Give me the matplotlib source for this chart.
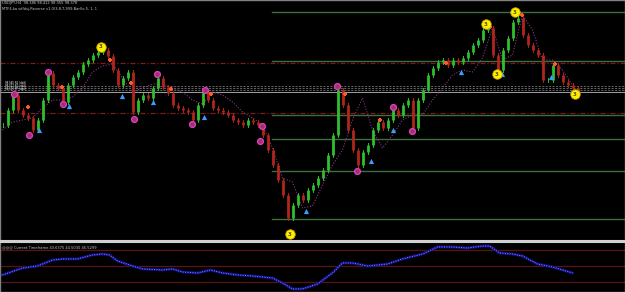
import matplotlib
matplotlib.use("Agg")
from matplotlib import pyplot as plt
import numpy as np

# price closes, one per bar
closes = [98.15, 98.30, 98.45, 98.30, 98.25, 98.22, 98.10, 98.20, 98.40, 98.67,
          98.55, 98.52, 98.38, 98.55, 98.63, 98.68, 98.76, 98.80, 98.85, 98.88,
          98.90, 98.84, 98.70, 98.55, 98.62, 98.68, 98.28, 98.40, 98.45, 98.42,
          98.52, 98.62, 98.53, 98.47, 98.35, 98.32, 98.30, 98.28, 98.20, 98.35,
          98.48, 98.40, 98.32, 98.30, 98.28, 98.25, 98.20, 98.18, 98.15, 98.20,
          98.18, 98.15, 98.05, 97.90, 97.75, 97.60, 97.45, 97.22, 97.35, 97.45,
          97.40, 97.50, 97.55, 97.62, 97.70, 97.85, 98.05, 98.50, 98.35, 98.10,
          97.90, 97.75, 97.88, 97.95, 98.10, 98.18, 98.12, 98.20, 98.30, 98.25,
          98.35, 98.40, 98.12, 98.40, 98.50, 98.65, 98.72, 98.78, 98.80, 98.75,
          98.80, 98.78, 98.82, 98.88, 98.95, 99.00, 99.10, 99.12, 98.85, 98.70,
          98.90, 99.02, 99.18, 99.22, 99.05, 98.95, 98.90, 98.85, 98.60, 98.60,
          98.75, 98.65, 98.58, 98.55, 98.52, 98.48]

# trailing stop (dotted)
trail_x = [0, 2, 4, 6, 8, 10, 12, 14, 16, 18, 20, 22, 24, 26, 28, 30, 32, 34, 36, 38,
           40, 42, 44, 46, 48, 50, 52, 54, 56, 58, 60, 62, 64, 66, 68, 70, 72, 74, 76, 78,
           80, 82, 84, 86, 88, 90, 92, 94, 96, 98, 100, 102, 104, 106, 108, 110, 112, 114]
trail_y = [98.10, 98.18, 98.20, 98.22, 98.32, 98.40, 98.40, 98.43, 98.52, 98.68,
           98.74, 98.76, 98.62, 98.48, 98.52, 98.56, 98.56, 98.52, 98.48, 98.40,
           98.36, 98.48, 98.45, 98.38, 98.28, 98.22, 98.15, 97.92, 97.62, 97.58,
           97.32, 97.34, 97.55, 97.75, 97.90, 98.20, 98.42, 98.10, 97.92, 98.05,
           98.20, 98.25, 98.25, 98.40, 98.52, 98.65, 98.70, 98.68, 98.82, 99.12,
           98.80, 98.85, 99.25, 99.10, 98.80, 98.80, 98.70, 98.55]

# signal markers (bar, price)
yellow_x = [19.6, 57.4, 96.6, 102.4, 98.8, 114.4]
yellow_y = [98.93, 97.06, 99.16, 99.28, 98.66, 98.46]
magenta_x = [9, 2.2, 12, 5.2, 30.8, 26.2, 40.4, 37.8, 66.8, 51.8, 51.4, 70.8, 78, 81.8]
magenta_y = [98.68, 98.46, 98.36, 98.05, 98.66, 98.21, 98.50, 98.16, 98.54, 98.14,
             97.99, 97.69, 98.33, 98.09]
cross_x = [21.4, 11.8, 5, 25.6, 33.6, 41.6, 68.4, 75.4, 103.8, 97.4, 88.6, 110.4]
cross_y = [98.80, 98.53, 98.33, 98.57, 98.51, 98.46, 98.46, 98.20, 99.25, 99.13,
           98.77, 98.76]
arrow_x = [7.2, 13.2, 23.8, 30, 40.2, 60.6, 73.6, 78, 91.6, 99.8, 109.6]
arrow_y = [98.10, 98.34, 98.44, 98.38, 98.23, 97.29, 97.79, 98.10, 98.68, 98.66, 98.63]

# levels
green_levels = [99.28, 98.79, 98.25, 98.01, 97.69, 97.21]
green_start = 53.8
red_levels = [98.77, 98.27]
gray_dashed = [98.54, 98.52, 98.50]
gray_solid = [98.48]
level_labels = ["98.545 R2 (ddd)", "98.521 R1 (ddd)", "98.503 PP (ddd)"]
label_y = [98.575, 98.545, 98.515]

# oscillator
osc_x = [0, 4, 7, 10, 12, 15, 18, 20, 21.4, 23, 26, 28, 32, 34, 36, 39, 41.6, 44, 47,
         50, 54, 56, 58, 60, 63, 66, 68, 70, 73, 77, 80, 84, 87, 90, 93, 96, 97.4,
         99.4, 102, 104, 107, 110, 114]
osc_y = [38.8, 47.5, 50.0, 57.5, 58.8, 58.8, 63.8, 65.0, 63.8, 56.3, 50.0, 46.3, 45.0,
         46.3, 42.5, 41.3, 45.0, 41.3, 38.8, 37.5, 35.0, 28.8, 21.3, 21.3, 27.5, 41.3,
         53.8, 53.8, 50.0, 52.5, 58.8, 65.0, 73.8, 73.8, 72.5, 75.0, 75.0, 66.3, 65.0,
         62.5, 52.5, 48.8, 41.3]
osc_levels = [70, 50, 30]

fig = plt.figure(figsize=(6.25, 2.92), dpi=100, facecolor="black")
ax = fig.add_axes([0, 51 / 292, 1, 241 / 292])
ax2 = fig.add_axes([0, 0, 1, 50 / 292])
for a in (ax, ax2):
    a.set_facecolor("black")
    a.set_xticks([])
    a.set_yticks([])
    for s in a.spines.values():
        s.set_color("#808080")
        s.set_linewidth(1)
ax.spines["bottom"].set_color("#d0d0d0")
ax.spines["bottom"].set_linewidth(1.5)
ax2.spines["top"].set_color("#d0d0d0")
ax2.spines["top"].set_linewidth(1.5)

# levels
for lv in green_levels:
    ax.plot([green_start, 126], [lv, lv], color="#3f6e3f", lw=1, zorder=1)
for lv in red_levels:
    ax.axhline(lv, color="#7a1c1c", lw=0.9, ls=(0, (4, 1.5, 1, 1.5)), zorder=1)
for lv in gray_dashed:
    ax.axhline(lv, color="#8a8a8a", lw=0.5, ls=(0, (3, 2)), zorder=1)
for lv in gray_solid:
    ax.axhline(lv, color="#a0a0a0", lw=0.7, zorder=1)
for t, ly in zip(level_labels, label_y):
    ax.text(0.5, ly, t, color="white", fontsize=1.9, va="center", ha="left")

# candles: open = previous close
opens = [closes[0]] + closes[:-1]
for i, (o, c) in enumerate(zip(opens, closes)):
    col = "#2fbf2f" if c >= o else "#b0261a"
    ax.plot([i, i], [o, c], color=col, lw=2.0, solid_capstyle="butt", zorder=3)
    ax.plot([i, i], [min(o, c) - 0.02, max(o, c) + 0.02], color=col, lw=0.7, zorder=3)

# trailing stop
ax.plot(trail_x, trail_y, color="#8a3580", lw=0.8, ls=(0, (1, 1.5)), zorder=2)

# markers
ax.scatter(magenta_x, magenta_y, s=18, facecolor="#a0306f", edgecolor="#e040c0",
           lw=0.9, zorder=5)
ax.scatter(cross_x, cross_y, s=12, marker="P", color="#ff5a2a", lw=0, zorder=5)
ax.scatter(arrow_x, arrow_y, s=14, marker="^", color="#3c9cff", lw=0, zorder=5)
ax.scatter(yellow_x, yellow_y, s=46, facecolor="#ffee00", edgecolor="#d0b000",
           lw=0.6, zorder=6)
for x, y in zip(yellow_x, yellow_y):
    ax.text(x, y, "3", color="#605000", fontsize=4, ha="center", va="center",
            fontweight="bold", zorder=7)

ax.text(0.004, 0.995, "USDJPY,H4  98.386 98.412 98.355 98.378", color="#c8c8c8",
        fontsize=2.6, transform=ax.transAxes, va="top")
ax.text(0.004, 0.97, "MTF4-ka sdfdsj-Reverse v1.0(3,8,7,999,Bar)lo 5, 1, 1",
        color="#c8c8c8", fontsize=2.6, transform=ax.transAxes, va="top")
ax.set_xlim(-0.5, 124.5)
ax.set_ylim(96.99, 99.40)

# oscillator panel
for lv in osc_levels:
    ax2.axhline(lv, color="#5a1414", lw=0.9)
ax2.plot(osc_x, osc_y, color="#10108a", lw=2.0)
ax2.plot(osc_x, osc_y, color="#8c8cff", lw=0.7, ls=(0, (1, 1.5)))
ax2.text(0.004, 0.93, "@@@ Current Timeframe 43.6375 44.5030 45.5299",
         color="#c8c8c8", fontsize=2.6, transform=ax2.transAxes, va="top")
ax2.set_xlim(-0.5, 124.5)
ax2.set_ylim(17.5, 80)

fig.savefig("out.png", dpi=100, facecolor="black")
